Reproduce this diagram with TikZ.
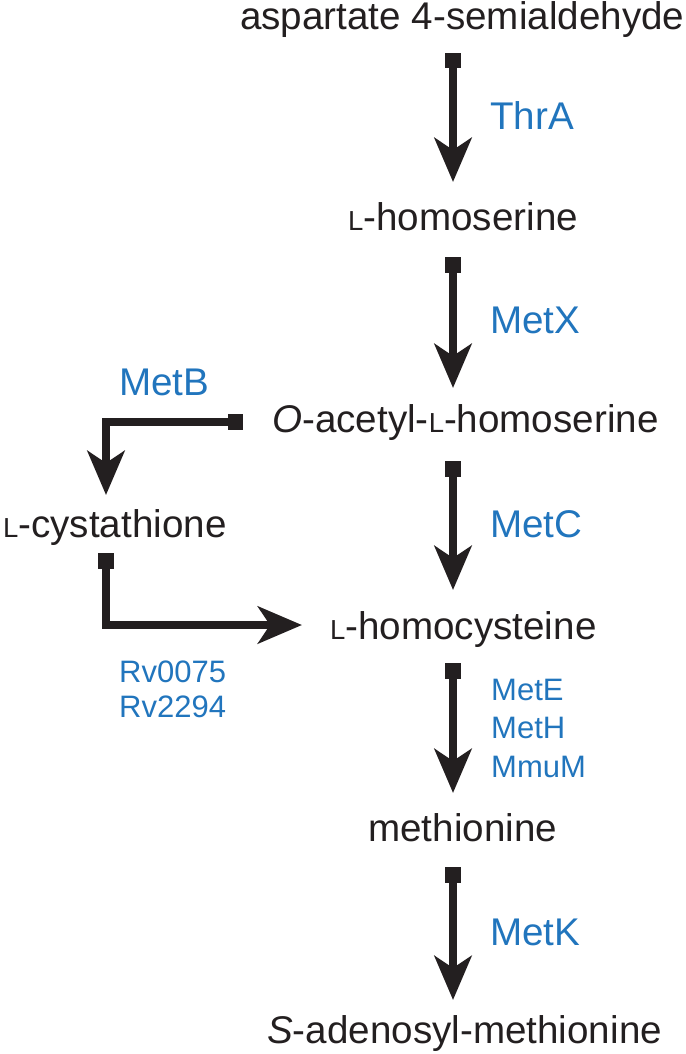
\documentclass[tikz,border=0pt]{standalone}
\usepackage{fontspec}
\setmainfont{Liberation Sans}
\usetikzlibrary{arrows.meta}
\definecolor{inkblack}{RGB}{35,31,32}
\definecolor{enzblue}{RGB}{33,117,189}
\newcommand{\scL}{{\fontsize{27.5pt}{27.5pt}\selectfont L}}
\begin{document}
\begin{tikzpicture}[x=1pt,y=-1pt,
  metab/.style={anchor=base west,inner sep=0pt,text=inkblack,font=\fontsize{38.6pt}{45pt}\selectfont},
  enzbig/.style={anchor=base west,inner sep=0pt,text=enzblue,font=\fontsize{38.6pt}{45pt}\selectfont},
  enzsmall/.style={anchor=base west,inner sep=0pt,text=enzblue,font=\fontsize{31pt}{36pt}\selectfont},
  rxn/.style={draw=inkblack,line width=8.3pt,line join=miter,
    {Square[length=15.5pt,width=15.5pt,fill=inkblack]}-{Stealth[length=44pt,width=37pt,inset=12pt,fill=inkblack]}}
]
\useasboundingbox (0,0) rectangle (685,1054);
% metabolites
\node[metab] (asp) at (240,30) {aspartate 4-semialdehyde};
\node[metab] (hse) at (348,230) {\scL-homoserine};
\node[metab] (oah) at (272,432) {\textit{O}-acetyl-\scL-homoserine};
\node[metab] (cys) at (3,537) {\scL-cystathione};
\node[metab] (hcy) at (330,639) {\scL-homocysteine};
\node[metab] (met) at (368,841) {methionine};
\node[metab] (sam) at (267,1043) {\textit{S}-adenosyl-methionine};
% enzymes
\node[enzbig] (thra) at (490,130) {ThrA};
\node[enzbig] (metx) at (490,333) {MetX};
\node[enzbig] (metc) at (490,537) {MetC};
\node[enzsmall] (mete) at (491,700) {MetE};
\node[enzsmall] (meth) at (491,738) {MetH};
\node[enzsmall] (mmum) at (491,777) {MmuM};
\node[enzbig] (metk) at (490,945) {MetK};
\node[enzbig] (metb) at (119,395) {MetB};
\node[enzsmall] (rv1) at (119,682) {Rv0075};
\node[enzsmall] (rv2) at (119,717) {Rv2294};
% connector end points
\coordinate (s1) at (453,53);  \coordinate (e1) at (453,182);
\coordinate (s2) at (453,257); \coordinate (e2) at (453,388);
\coordinate (s3) at (453,461); \coordinate (e3) at (453,590);
\coordinate (s4) at (453,663); \coordinate (e4) at (453,793);
\coordinate (s5) at (453,867); \coordinate (e5) at (453,1000);
\coordinate (sb) at (243,422); \coordinate (cb) at (106,422); \coordinate (eb) at (106,495);
\coordinate (sr) at (106,553); \coordinate (cr) at (106,625); \coordinate (er) at (302,625);
% reactions
\draw[rxn] (s1) -- (e1);
\draw[rxn] (s2) -- (e2);
\draw[rxn] (s3) -- (e3);
\draw[rxn] (s4) -- (e4);
\draw[rxn] (s5) -- (e5);
\draw[rxn] (sb) -- (cb) -- (eb);
\draw[rxn] (sr) -- (cr) -- (er);
\end{tikzpicture}
\end{document}
